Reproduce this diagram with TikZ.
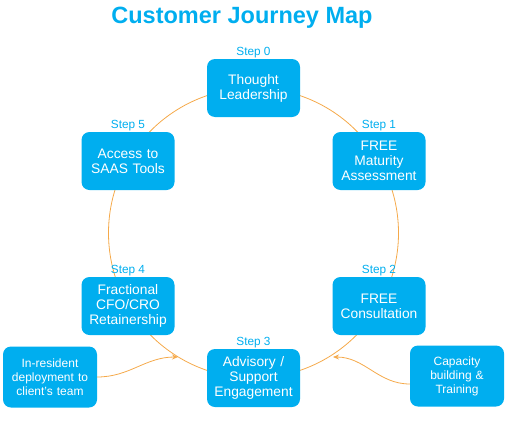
\documentclass[tikz,border=0pt]{standalone}
\usepackage{fontspec}
\setmainfont{Liberation Sans}
\usetikzlibrary{positioning,arrows.meta}
\definecolor{mapblue}{HTML}{00AEEF}
\definecolor{maporange}{HTML}{F5A94A}
\tikzstyle{stage} = [fill=mapblue, rounded corners=8pt, text=white,
    minimum width=93pt, minimum height=58pt, text width=88pt, align=center,
    inner sep=1pt, font=\fontsize{13.8}{15}\selectfont]
\tikzstyle{extra} = [stage, minimum width=94pt, minimum height=61pt,
    font=\fontsize{12}{14}\selectfont]
\tikzstyle{steplabel} = [text=mapblue, inner sep=1pt,
    font=\fontsize{11.8}{13}\selectfont]
\tikzstyle{ring} = [draw=maporange, line width=0.8pt]

\begin{document}
\begin{tikzpicture}[x=1pt, y=-1pt, node distance=-0.5pt, >={Stealth[length=6pt,width=5pt]}]
	  \useasboundingbox (0,0) rectangle (516,439);
	  \node [text=mapblue, font=\fontsize{23.5}{26}\selectfont\bfseries] (title) at (242,18) {Customer Journey Map};
	  % the ring behind the steps
	  \coordinate (hub) at (253.5,233);
	  \draw [ring] (hub) circle [radius=145pt];
	  \node [stage] (thought) at (253.5,88) {Thought\\Leadership};
	  \node [stage] (maturity) at (379,161) {FREE\\Maturity\\Assessment};
	  \node [stage] (consult) at (379,306) {FREE\\Consultation};
	  \node [stage] (advisory) at (253.5,378) {Advisory /\\Support\\Engagement};
	  \node [stage] (fractional) at (128,306) {Fractional\\CFO/CRO\\Retainership};
	  \node [stage] (saas) at (128,161) {Access to\\SAAS Tools};
	  \node [steplabel, above=of thought] (s0) {Step 0};
	  \node [steplabel, above=of maturity] (s1) {Step 1};
	  \node [steplabel, above=of consult] (s2) {Step 2};
	  \node [steplabel, above=of advisory] (s3) {Step 3};
	  \node [steplabel, above=of fractional] (s4) {Step 4};
	  \node [steplabel, above=of saas] (s5) {Step 5};
	  % side inputs into step 3
	  \node [extra] (resident) at (50,377) {In-resident\\deployment to\\client's team};
	  \node [extra] (capacity) at (457,376) {Capacity\\building \&\\Training};
	  \coordinate (tipL) at (178,357);
	  \coordinate (tipR) at (333,357);
	  \draw [ring,->] (resident.east) to [out=0, in=180] (tipL);
	  \draw [ring,->] ([yshift=-8pt]capacity.west) to [out=180, in=0] (tipR);
	\end{tikzpicture}
\end{document}
